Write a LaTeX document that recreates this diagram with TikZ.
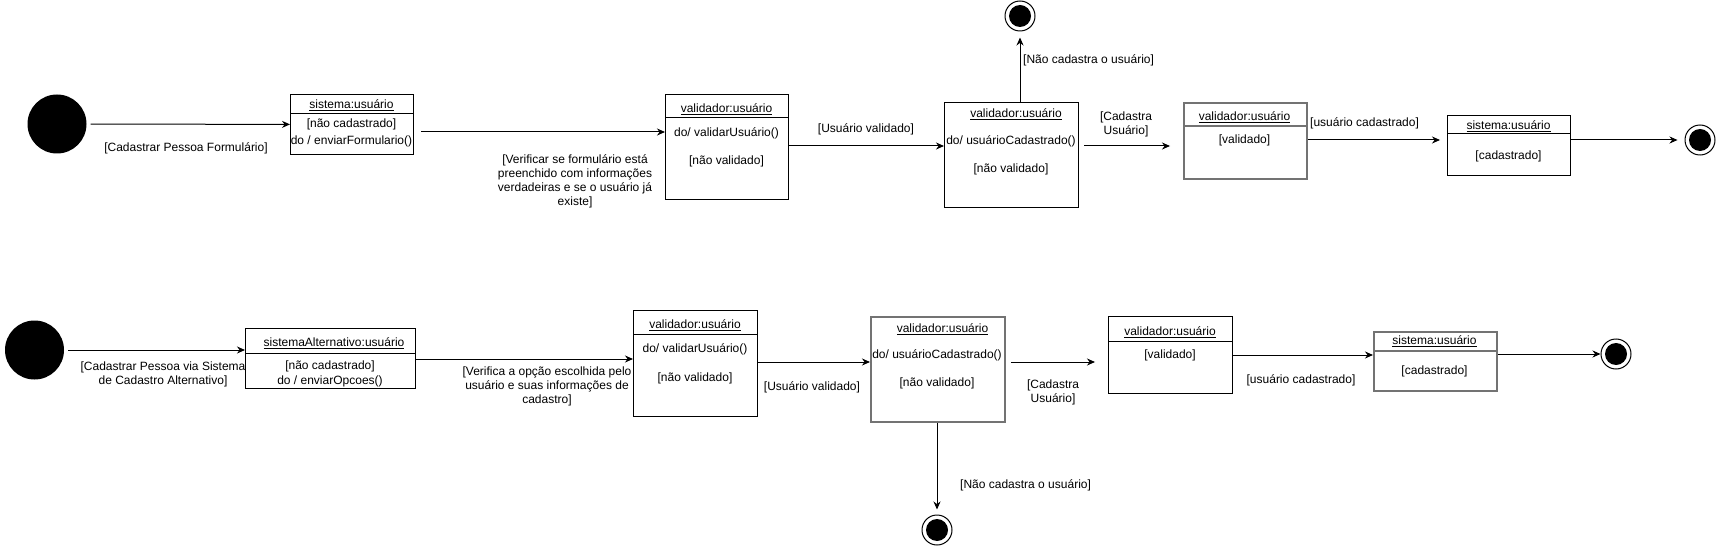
\documentclass[tikz,border=0pt]{standalone}
\usepackage{fontspec}
\setmainfont{Liberation Sans}
\usetikzlibrary{arrows.meta}
\begin{document}
\begin{tikzpicture}[x=1pt,y=-1pt,
  lbl/.style={font=\fontsize{12}{14}\selectfont, inner sep=0pt, align=center},
  sbox/.style={draw, line width=1pt, anchor=north west, inner sep=0pt},
  gbox/.style={sbox, draw=black!55, line width=1.8pt},
  sep/.style={line width=1pt},
  gsep/.style={line width=1.4pt, draw=black!55},
  initst/.style={circle, fill=black, inner sep=0pt, minimum size=59pt},
  endst/.style={circle, draw, line width=1pt, inner sep=0pt, minimum size=30pt,
    path picture={\fill (path picture bounding box.center) circle (11pt);}},
  arr/.style={-{Stealth[length=8pt,width=7pt]}, line width=1pt},
]
\useasboundingbox (0,0) rectangle (1716,548);

% ---------- top row ----------
\node[initst] (i1) at (57,124) {};
\node[sbox, minimum width=123pt, minimum height=60pt] (b1) at (290,94) {};
\draw[sep] (b1.west |- 0,114) -- (b1.east |- 0,114);
\node[lbl] (b1t) at (351.5,105) {\underline{sistema:usuário}};
\node[lbl] (b1a) at (351.5,124) {[não cadastrado]};
\node[lbl] (b1b) at (351.5,141) {do / enviarFormulario()};

\node[sbox, minimum width=123pt, minimum height=105pt] (v1) at (665,94) {};
\draw[sep] (v1.west |- 0,118) -- (v1.east |- 0,118);
\node[lbl] (v1t) at (726.5,109) {\underline{validador:usuário}};
\node[lbl] (v1a) at (726.5,133) {do/ validarUsuário()};
\node[lbl] (v1b) at (726.5,161) {[não validado]};

\node[sbox, minimum width=134pt, minimum height=105pt] (c1) at (944,102) {};
\node[lbl] (c1t) at (1016,114) {\underline{validador:usuário}};
\node[lbl] (c1a) at (1011,141) {do/ usuárioCadastrado()};
\node[lbl] (c1b) at (1011,169) {[não validado]};

\node[gbox, minimum width=123pt, minimum height=76pt] (b4) at (1183,102) {};
\draw[gsep] (b4.west |- 0,126) -- (b4.east |- 0,126);
\node[lbl] (b4t) at (1244.5,117) {\underline{validador:usuário}};
\node[lbl] (b4a) at (1244.5,140) {[validado]};

\node[sbox, minimum width=123pt, minimum height=60pt] (b5) at (1447,115) {};
\draw[sep] (b5.west |- 0,134) -- (b5.east |- 0,134);
\node[lbl] (b5t) at (1508.5,126) {\underline{sistema:usuário}};
\node[lbl] (b5a) at (1508.5,156) {[cadastrado]};

\node[endst] (e1) at (1020,16) {};
\node[endst] (e2) at (1700,140) {};

\draw[arr, shorten <=4pt] (i1) -- (b1);
\draw[arr, shorten <=7pt] (b1.east |- 0,132) -- (v1.west |- 0,132);
\draw[arr] (v1.east |- 0,146) -- (c1.west |- 0,146);
\draw[arr, shorten >=6pt] (c1.north -| e1) -- (e1.south);
\draw[arr, shorten <=5pt, shorten >=13pt] (c1.east |- 0,146) -- (b4.west |- 0,146);
\draw[arr, shorten >=7pt] (b4.east |- 0,140) -- (b5.west |- 0,140);
\draw[arr, shorten >=7pt] (b5.east |- e2) -- (e2);

\node[lbl] (l1) at (186,148) {[Cadastrar Pessoa Formulário]};
\node[lbl] (l2) at (575,181) {[Verificar se formulário está\\preenchido com informações\\verdadeiras e se o usuário já\\existe]};
\node[lbl] (l3) at (866,129) {[Usuário validado]};
\node[lbl, anchor=west] (l4) at (1023,60) {[Não cadastra o usuário]};
\node[lbl] (l5) at (1126,124) {[Cadastra\\Usuário]};
\node[lbl, anchor=west] (l6) at (1310,123) {[usuário cadastrado]};

% ---------- bottom row ----------
\node[initst] (i2) at (34.5,350) {};
\node[sbox, minimum width=170pt, minimum height=60pt] (b6) at (245,328) {};
\draw[sep] (b6.west |- 0,353) -- (b6.east |- 0,353);
\node[lbl] (b6t) at (334,343) {\underline{sistemaAlternativo:usuário}};
\node[lbl] (b6a) at (330,366) {[não cadastrado]};
\node[lbl] (b6b) at (330,381) {do / enviarOpcoes()};

\node[sbox, minimum width=124pt, minimum height=106pt] (v2) at (633,310) {};
\draw[sep] (v2.west |- 0,334) -- (v2.east |- 0,334);
\node[lbl] (v2t) at (695,325) {\underline{validador:usuário}};
\node[lbl] (v2a) at (695,349) {do/ validarUsuário()};
\node[lbl] (v2b) at (695,378) {[não validado]};

\node[gbox, minimum width=134pt, minimum height=105pt] (c2) at (870,316) {};
\node[lbl] (c2t) at (942.5,329) {\underline{validador:usuário}};
\node[lbl] (c2a) at (937,355) {do/ usuárioCadastrado()};
\node[lbl] (c2b) at (937,383) {[não validado]};

\node[sbox, minimum width=124pt, minimum height=77pt] (b7) at (1108,316) {};
\draw[sep] (b7.west |- 0,341) -- (b7.east |- 0,341);
\node[lbl] (b7t) at (1170,332) {\underline{validador:usuário}};
\node[lbl] (b7a) at (1170,355) {[validado]};

\node[gbox, minimum width=123pt, minimum height=59pt] (b8) at (1373,331) {};
\draw[gsep] (b8.west |- 0,351) -- (b8.east |- 0,351);
\node[lbl] (b8t) at (1434.5,341) {\underline{sistema:usuário}};
\node[lbl] (b8a) at (1434.5,371) {[cadastrado]};

\node[endst] (e3) at (937,530) {};
\node[endst] (e4) at (1616,354) {};

\draw[arr, shorten <=4pt] (i2) -- (b6.west |- i2);
\draw[arr] (b6.east |- 0,359) -- (v2.west |- 0,359);
\draw[arr] (v2.east |- 0,362) -- (c2.west |- 0,362);
\draw[arr, shorten <=5pt, shorten >=13pt] (c2.east |- 0,362) -- (b7.west |- 0,362);
\draw[arr, shorten >=5pt] (c2.south -| e3) -- (e3.north);
\draw[arr] (b7.east |- 0,355) -- (b8.west |- 0,355);
\draw[arr] (b8.east |- e4) -- (e4);

\node[lbl] (m1) at (163,374) {[Cadastrar Pessoa via Sistema\\de Cadastro Alternativo]};
\node[lbl] (m2) at (547,386) {[Verifica a opção escolhida pelo\\usuário e suas informações de\\cadastro]};
\node[lbl] (m3) at (812,387) {[Usuário validado]};
\node[lbl] (m4) at (1053,392) {[Cadastra\\Usuário]};
\node[lbl, anchor=west] (m5) at (960,485) {[Não cadastra o usuário]};
\node[lbl] (m6) at (1301,380) {[usuário cadastrado]};
\end{tikzpicture}
\end{document}
